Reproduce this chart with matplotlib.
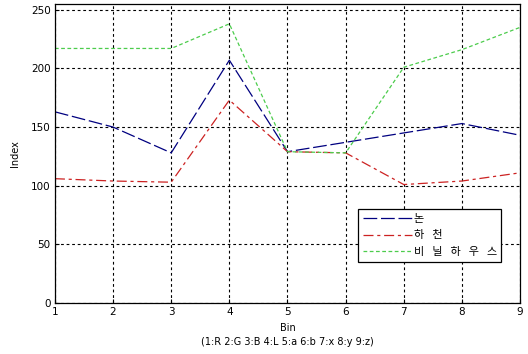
import matplotlib
matplotlib.use("Agg")
import matplotlib.pyplot as plt

plt.rcParams['font.family'] = ['DejaVu Sans', 'Noto Sans CJK KR']

# ── data ────────────────────────────────────────────────────────────────────
bins = [1, 2, 3, 4, 5, 6, 7, 8, 9]
paddy = [163, 150, 128, 207, 129, 137, 145, 153, 143]        # 논
river = [106, 104, 103, 173, 129, 128, 101, 104, 111]        # 하천
greenhouse = [217, 217, 217, 238, 129, 128, 201, 216, 235]   # 비닐 하우스
# legend labels are drawn with wide letter spacing in the original
GAP = " \u2002"
labels = ["논", GAP.join("하천"), GAP.join("비닐하우스")]
yticks = [0, 50, 100, 150, 200, 250]

fig = plt.figure(figsize=(5.28, 3.54), dpi=100)
fig.patch.set_facecolor("white")
ax = fig.add_axes([0.104, 0.144, 0.881, 0.845])

ax.plot(bins, paddy, color="#000080", linewidth=0.9, dashes=(11, 3), label=labels[0])
ax.plot(bins, river, color="#cc2222", linewidth=0.9, dashes=(8, 3, 2.5, 3), label=labels[1])
ax.plot(bins, greenhouse, color="#4ccc4c", linewidth=0.9, dashes=(3, 2), label=labels[2])

ax.set_xlim(1, 9)
ax.set_ylim(0, 255)
ax.set_xticks(bins)
ax.set_yticks(yticks)
ax.grid(True, color="black", linestyle=(0, (2.5, 2.5)), linewidth=0.8)
ax.tick_params(direction="in", length=3, labelsize=7.5, pad=3, color="black")
for s in ax.spines.values():
    s.set_linewidth(0.9)
    s.set_color("black")

ax.set_ylabel("Index", fontsize=7, labelpad=8)
ax.set_xlabel("Bin\n(1:R 2:G 3:B 4:L 5:a 6:b 7:x 8:y 9:z)", fontsize=7,
              linespacing=1.5, labelpad=4)

leg = ax.legend(loc="upper left", bbox_to_anchor=(0.652, 0.314),
                borderaxespad=0, handlelength=4.4, handletextpad=0.2,
                frameon=True, fancybox=False, borderpad=0.4,
                edgecolor="black", framealpha=1, labelspacing=0.62,
                prop={'family': ['Noto Sans CJK KR', 'DejaVu Sans'], 'size': 8})
leg.get_frame().set_linewidth(0.9)

fig.savefig("out.png", dpi=100, facecolor="white")
